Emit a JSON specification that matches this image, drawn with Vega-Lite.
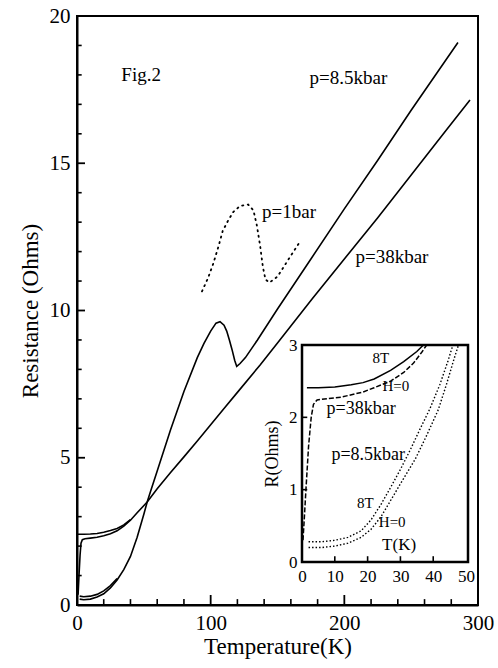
{
  "$schema": "https://vega.github.io/schema/vega-lite/v6.json",
  "width": 401,
  "height": 589,
  "autosize": "none",
  "padding": {"left": 77, "top": 16, "right": 20, "bottom": 63},
  "background": "white",
  "config": {
    "view": {"stroke": "black", "strokeWidth": 2},
    "font": "Liberation Serif",
    "axis": {
      "domainColor": "black", "domainWidth": 2, "tickColor": "black",
      "labelColor": "black", "titleColor": "black", "titleFontWeight": "normal",
      "labelFont": "Liberation Serif", "titleFont": "Liberation Serif",
      "labelOverlap": false, "labelFlush": false, "grid": false
    },
    "text": {"font": "Liberation Serif", "color": "black"}
  },
  "datasets": {
    "main": [
      {"s": "85H", "T": 2, "R": 0.2}, {"s": "85H", "T": 5, "R": 0.18}, {"s": "85H", "T": 10, "R": 0.2},
      {"s": "85H", "T": 15, "R": 0.27}, {"s": "85H", "T": 20, "R": 0.38}, {"s": "85H", "T": 25, "R": 0.58},
      {"s": "85H", "T": 30, "R": 0.85}, {"s": "85H", "T": 35, "R": 1.2}, {"s": "85H", "T": 40, "R": 1.65},
      {"s": "85H", "T": 45, "R": 2.3}, {"s": "85H", "T": 50, "R": 3.08}, {"s": "85H", "T": 52.5, "R": 3.5},
      {"s": "85H", "T": 55, "R": 3.85}, {"s": "85H", "T": 60, "R": 4.55}, {"s": "85H", "T": 70, "R": 5.95},
      {"s": "85H", "T": 80, "R": 7.25}, {"s": "85H", "T": 90, "R": 8.4}, {"s": "85H", "T": 95, "R": 8.88},
      {"s": "85H", "T": 100, "R": 9.3}, {"s": "85H", "T": 104, "R": 9.57}, {"s": "85H", "T": 107, "R": 9.62},
      {"s": "85H", "T": 110, "R": 9.5}, {"s": "85H", "T": 112, "R": 9.3}, {"s": "85H", "T": 114, "R": 9.0},
      {"s": "85H", "T": 116, "R": 8.67}, {"s": "85H", "T": 118, "R": 8.3}, {"s": "85H", "T": 119.5, "R": 8.1},
      {"s": "85H", "T": 122, "R": 8.2}, {"s": "85H", "T": 126, "R": 8.4}, {"s": "85H", "T": 135, "R": 9.0},
      {"s": "85H", "T": 150, "R": 10.05}, {"s": "85H", "T": 175, "R": 11.75}, {"s": "85H", "T": 200, "R": 13.45},
      {"s": "85H", "T": 225, "R": 15.1}, {"s": "85H", "T": 250, "R": 16.8}, {"s": "85H", "T": 285, "R": 19.1},

      {"s": "85T", "T": 2, "R": 0.3}, {"s": "85T", "T": 5, "R": 0.28}, {"s": "85T", "T": 10, "R": 0.3},
      {"s": "85T", "T": 15, "R": 0.36}, {"s": "85T", "T": 20, "R": 0.48}, {"s": "85T", "T": 25, "R": 0.66},
      {"s": "85T", "T": 30, "R": 0.9},

      {"s": "38H", "T": 0.8, "R": 0.35}, {"s": "38H", "T": 1.5, "R": 1.0}, {"s": "38H", "T": 2.3, "R": 1.7},
      {"s": "38H", "T": 3, "R": 2.1}, {"s": "38H", "T": 4, "R": 2.22}, {"s": "38H", "T": 6, "R": 2.25},
      {"s": "38H", "T": 10, "R": 2.27}, {"s": "38H", "T": 15, "R": 2.3}, {"s": "38H", "T": 20, "R": 2.35},
      {"s": "38H", "T": 25, "R": 2.42}, {"s": "38H", "T": 30, "R": 2.52}, {"s": "38H", "T": 35, "R": 2.68},
      {"s": "38H", "T": 40, "R": 2.88}, {"s": "38H", "T": 45, "R": 3.13}, {"s": "38H", "T": 52.5, "R": 3.5},
      {"s": "38H", "T": 60, "R": 3.95}, {"s": "38H", "T": 70, "R": 4.5}, {"s": "38H", "T": 80, "R": 5.03},
      {"s": "38H", "T": 90, "R": 5.57}, {"s": "38H", "T": 100, "R": 6.12}, {"s": "38H", "T": 110, "R": 6.67},
      {"s": "38H", "T": 120, "R": 7.22}, {"s": "38H", "T": 137, "R": 8.15}, {"s": "38H", "T": 150, "R": 8.9},
      {"s": "38H", "T": 176, "R": 10.4}, {"s": "38H", "T": 200, "R": 11.75}, {"s": "38H", "T": 225, "R": 13.15},
      {"s": "38H", "T": 250, "R": 14.6}, {"s": "38H", "T": 275, "R": 16.05}, {"s": "38H", "T": 294, "R": 17.15},

      {"s": "38T", "T": 0.7, "R": 2.4}, {"s": "38T", "T": 5, "R": 2.4}, {"s": "38T", "T": 10, "R": 2.41},
      {"s": "38T", "T": 15, "R": 2.43}, {"s": "38T", "T": 20, "R": 2.47}, {"s": "38T", "T": 25, "R": 2.53},
      {"s": "38T", "T": 30, "R": 2.6}, {"s": "38T", "T": 35, "R": 2.72}, {"s": "38T", "T": 40, "R": 2.9},

      {"s": "p1", "T": 93.5, "R": 10.65}, {"s": "p1", "T": 98, "R": 11.1}, {"s": "p1", "T": 102, "R": 11.6},
      {"s": "p1", "T": 106, "R": 12.2}, {"s": "p1", "T": 109, "R": 12.7}, {"s": "p1", "T": 113, "R": 13.05},
      {"s": "p1", "T": 117, "R": 13.35}, {"s": "p1", "T": 122, "R": 13.55}, {"s": "p1", "T": 128, "R": 13.6},
      {"s": "p1", "T": 132, "R": 13.4}, {"s": "p1", "T": 134.5, "R": 12.9}, {"s": "p1", "T": 137, "R": 12.2},
      {"s": "p1", "T": 139, "R": 11.5}, {"s": "p1", "T": 141, "R": 11.05}, {"s": "p1", "T": 144, "R": 10.95},
      {"s": "p1", "T": 150, "R": 11.15}, {"s": "p1", "T": 157, "R": 11.65}, {"s": "p1", "T": 162, "R": 12.0},
      {"s": "p1", "T": 167, "R": 12.35}
    ],
    "mainlabels": [
      {"t": "Fig.2", "T": 48, "R": 18.0},
      {"t": "p=8.5kbar", "T": 203, "R": 17.9},
      {"t": "p=1bar", "T": 158.6, "R": 13.33},
      {"t": "p=38kbar", "T": 235.6, "R": 11.8}
    ],
    "xminor": [{"T": 20}, {"T": 40}, {"T": 60}, {"T": 80}, {"T": 120}, {"T": 140}, {"T": 160}, {"T": 180},
      {"T": 220}, {"T": 240}, {"T": 260}, {"T": 280}],
    "xmajor": [{"T": 100}, {"T": 200}],
    "yminor": [{"R": 1}, {"R": 2}, {"R": 3}, {"R": 4}, {"R": 6}, {"R": 7}, {"R": 8}, {"R": 9},
      {"R": 11}, {"R": 12}, {"R": 13}, {"R": 14}, {"R": 16}, {"R": 17}, {"R": 18}, {"R": 19}],
    "ymajor": [{"R": 5}, {"R": 10}, {"R": 15}],
    "inset": [
      {"s": "38T", "T": 1.5, "R": 2.41}, {"s": "38T", "T": 5, "R": 2.41}, {"s": "38T", "T": 10, "R": 2.42},
      {"s": "38T", "T": 15, "R": 2.45}, {"s": "38T", "T": 18.6, "R": 2.48}, {"s": "38T", "T": 22, "R": 2.53},
      {"s": "38T", "T": 27, "R": 2.65}, {"s": "38T", "T": 31, "R": 2.77}, {"s": "38T", "T": 35, "R": 2.91},
      {"s": "38T", "T": 37, "R": 3.0},

      {"s": "38H", "T": 0.3, "R": 0.3}, {"s": "38H", "T": 0.7, "R": 0.6}, {"s": "38H", "T": 1.2, "R": 1.0},
      {"s": "38H", "T": 2, "R": 1.6}, {"s": "38H", "T": 2.8, "R": 2.0}, {"s": "38H", "T": 3.5, "R": 2.18},
      {"s": "38H", "T": 4.6, "R": 2.24}, {"s": "38H", "T": 8, "R": 2.26}, {"s": "38H", "T": 12, "R": 2.28},
      {"s": "38H", "T": 18.6, "R": 2.35}, {"s": "38H", "T": 22, "R": 2.41}, {"s": "38H", "T": 27, "R": 2.5},
      {"s": "38H", "T": 31, "R": 2.62}, {"s": "38H", "T": 34, "R": 2.75}, {"s": "38H", "T": 36.5, "R": 2.9},
      {"s": "38H", "T": 38, "R": 3.0},

      {"s": "85T", "T": 2, "R": 0.28}, {"s": "85T", "T": 6, "R": 0.28}, {"s": "85T", "T": 10, "R": 0.3},
      {"s": "85T", "T": 14, "R": 0.34}, {"s": "85T", "T": 18, "R": 0.43}, {"s": "85T", "T": 21, "R": 0.58},
      {"s": "85T", "T": 24, "R": 0.79}, {"s": "85T", "T": 27, "R": 1.03}, {"s": "85T", "T": 30, "R": 1.28},
      {"s": "85T", "T": 33, "R": 1.55}, {"s": "85T", "T": 36, "R": 1.84}, {"s": "85T", "T": 39, "R": 2.12},
      {"s": "85T", "T": 42, "R": 2.45}, {"s": "85T", "T": 44.5, "R": 2.78}, {"s": "85T", "T": 46, "R": 3.0},

      {"s": "85H", "T": 2, "R": 0.2}, {"s": "85H", "T": 6, "R": 0.2}, {"s": "85H", "T": 10, "R": 0.22},
      {"s": "85H", "T": 14, "R": 0.26}, {"s": "85H", "T": 18, "R": 0.34}, {"s": "85H", "T": 21, "R": 0.45},
      {"s": "85H", "T": 24, "R": 0.62}, {"s": "85H", "T": 27, "R": 0.85}, {"s": "85H", "T": 30, "R": 1.08},
      {"s": "85H", "T": 34.5, "R": 1.42}, {"s": "85H", "T": 38, "R": 1.75}, {"s": "85H", "T": 41.5, "R": 2.1},
      {"s": "85H", "T": 44, "R": 2.45}, {"s": "85H", "T": 46.3, "R": 2.8}, {"s": "85H", "T": 47.7, "R": 3.0}
    ],
    "insetframe": [{"x0": 0, "x1": 50.6, "y0": 0, "y1": 3}],
    "insetxticks": [{"T": 10}, {"T": 20}, {"T": 30}, {"T": 40}],
    "insetyticks": [{"R": 1}, {"R": 2}],
    "insetbig": [
      {"t": "p=38kbar", "T": 18, "R": 2.11},
      {"t": "p=8.5kbar", "T": 20.2, "R": 1.48}
    ],
    "insetsmall": [
      {"t": "8T", "T": 24, "R": 2.82},
      {"t": "H=0", "T": 28.6, "R": 2.43},
      {"t": "8T", "T": 19.3, "R": 0.82},
      {"t": "H=0", "T": 27.5, "R": 0.55}
    ],
    "insettk": [{"t": "T(K)", "T": 29.6, "R": 0.24}]
  },
  "layer": [
    {
      "layer": [
        {
          "data": {"name": "main"},
          "transform": [{"filter": "datum.s !== 'p1'"}],
          "mark": {"type": "line", "color": "black", "strokeWidth": 1.6},
          "encoding": {
            "x": {"field": "T", "type": "quantitative", "scale": {"domain": [0, 300], "nice": false, "zero": false},
              "axis": {"orient": "bottom", "title": "Temperature(K)", "values": [0, 100, 200, 300],
                "labelOverlap": false, "labelFlush": false, "format": "d",
                "ticks": false, "tickSize": 0, "labelPadding": 7,
                "labelFontSize": 21, "titleFontSize": 23, "titlePadding": 2}},
            "y": {"field": "R", "type": "quantitative", "scale": {"domain": [0, 20], "nice": false, "zero": false},
              "axis": {"orient": "left", "title": "Resistance (Ohms)", "values": [0, 5, 10, 15, 20],
                "labelOverlap": false, "labelFlush": false, "format": "d",
                "ticks": false, "tickSize": 0, "labelPadding": 7,
                "labelFontSize": 21, "titleFontSize": 23, "titlePadding": 7}},
            "detail": {"field": "s"}
          }
        },
        {
          "data": {"name": "main"},
          "transform": [{"filter": "datum.s === 'p1'"}],
          "mark": {"type": "line", "color": "black", "strokeWidth": 1.8, "strokeDash": [1.2, 4.5], "strokeCap": "round"},
          "encoding": {
            "x": {"field": "T", "type": "quantitative"},
            "y": {"field": "R", "type": "quantitative"}
          }
        },
        {
          "data": {"name": "xminor"},
          "mark": {"type": "rule", "color": "black", "strokeWidth": 1.6},
          "encoding": {
            "x": {"field": "T", "type": "quantitative"},
            "y": {"datum": 0},
            "y2": {"datum": 0.2}
          }
        },
        {
          "data": {"name": "xmajor"},
          "mark": {"type": "rule", "color": "black", "strokeWidth": 1.8},
          "encoding": {
            "x": {"field": "T", "type": "quantitative"},
            "y": {"datum": 0},
            "y2": {"datum": 0.34}
          }
        },
        {
          "data": {"name": "yminor"},
          "mark": {"type": "rule", "color": "black", "strokeWidth": 1.6},
          "encoding": {
            "y": {"field": "R", "type": "quantitative"},
            "x": {"datum": 0},
            "x2": {"datum": 3.5}
          }
        },
        {
          "data": {"name": "ymajor"},
          "mark": {"type": "rule", "color": "black", "strokeWidth": 1.8},
          "encoding": {
            "y": {"field": "R", "type": "quantitative"},
            "x": {"datum": 0},
            "x2": {"datum": 6}
          }
        },
        {
          "data": {"name": "mainlabels"},
          "mark": {"type": "text", "fontSize": 19, "align": "center", "baseline": "middle"},
          "encoding": {
            "x": {"field": "T", "type": "quantitative"},
            "y": {"field": "R", "type": "quantitative"},
            "text": {"field": "t"}
          }
        }
      ]
    },
    {
      "layer": [
        {
          "data": {"name": "insetframe"},
          "mark": {"type": "rect", "fill": "white", "stroke": "black", "strokeWidth": 2.5},
          "encoding": {
            "x": {"field": "x0", "type": "quantitative", "scale": {"domain": [0, 50.6], "range": [225, 391], "nice": false, "zero": false},
              "axis": {"orient": "bottom", "offset": -43, "title": null, "values": [0,10,20,30,40,50], "domain": false,
                "labelOverlap": false, "labelFlush": false, "format": "d",
                "ticks": false, "tickSize": 0, "labelPadding": 6, "labelFontSize": 17}},
            "x2": {"field": "x1"},
            "y": {"field": "y0", "type": "quantitative", "scale": {"domain": [0, 3], "range": [546, 329], "nice": false, "zero": false},
              "axis": {"orient": "left", "offset": -225, "title": "R(Ohms)", "values": [0,1,2,3], "domain": false,
                "labelOverlap": false, "labelFlush": false, "format": "d",
                "ticks": false, "tickSize": 0, "labelPadding": 5, "labelFontSize": 17, "titleFontSize": 18, "titlePadding": 7}},
            "y2": {"field": "y1"}
          }
        },
        {
          "data": {"name": "insetxticks"},
          "mark": {"type": "rule", "color": "black", "strokeWidth": 1.6},
          "encoding": {
            "x": {"field": "T", "type": "quantitative"},
            "y": {"datum": 0},
            "y2": {"datum": 0.08}
          }
        },
        {
          "data": {"name": "insetyticks"},
          "mark": {"type": "rule", "color": "black", "strokeWidth": 1.6},
          "encoding": {
            "y": {"field": "R", "type": "quantitative"},
            "x": {"datum": 0},
            "x2": {"datum": 1.6}
          }
        },
        {
          "data": {"name": "inset"},
          "transform": [{"filter": "datum.s === '38T'"}],
          "mark": {"type": "line", "color": "black", "strokeWidth": 1.5},
          "encoding": {
            "x": {"field": "T", "type": "quantitative"},
            "y": {"field": "R", "type": "quantitative"}
          }
        },
        {
          "data": {"name": "inset"},
          "transform": [{"filter": "datum.s === '38H'"}],
          "mark": {"type": "line", "color": "black", "strokeWidth": 1.5, "strokeDash": [5, 2]},
          "encoding": {
            "x": {"field": "T", "type": "quantitative"},
            "y": {"field": "R", "type": "quantitative"}
          }
        },
        {
          "data": {"name": "inset"},
          "transform": [{"filter": "datum.s === '85T' || datum.s === '85H'"}],
          "mark": {"type": "line", "color": "black", "strokeWidth": 1.4, "strokeDash": [1.5, 2]},
          "encoding": {
            "x": {"field": "T", "type": "quantitative"},
            "y": {"field": "R", "type": "quantitative"},
            "detail": {"field": "s"}
          }
        },
        {
          "data": {"name": "insetbig"},
          "mark": {"type": "text", "fontSize": 18, "align": "center", "baseline": "middle"},
          "encoding": {
            "x": {"field": "T", "type": "quantitative"},
            "y": {"field": "R", "type": "quantitative"},
            "text": {"field": "t"}
          }
        },
        {
          "data": {"name": "insetsmall"},
          "mark": {"type": "text", "fontSize": 15, "align": "center", "baseline": "middle"},
          "encoding": {
            "x": {"field": "T", "type": "quantitative"},
            "y": {"field": "R", "type": "quantitative"},
            "text": {"field": "t"}
          }
        },
        {
          "data": {"name": "insettk"},
          "mark": {"type": "text", "fontSize": 17, "align": "center", "baseline": "middle"},
          "encoding": {
            "x": {"field": "T", "type": "quantitative"},
            "y": {"field": "R", "type": "quantitative"},
            "text": {"field": "t"}
          }
        }
      ]
    }
  ],
  "resolve": {"scale": {"x": "independent", "y": "independent"}}
}
